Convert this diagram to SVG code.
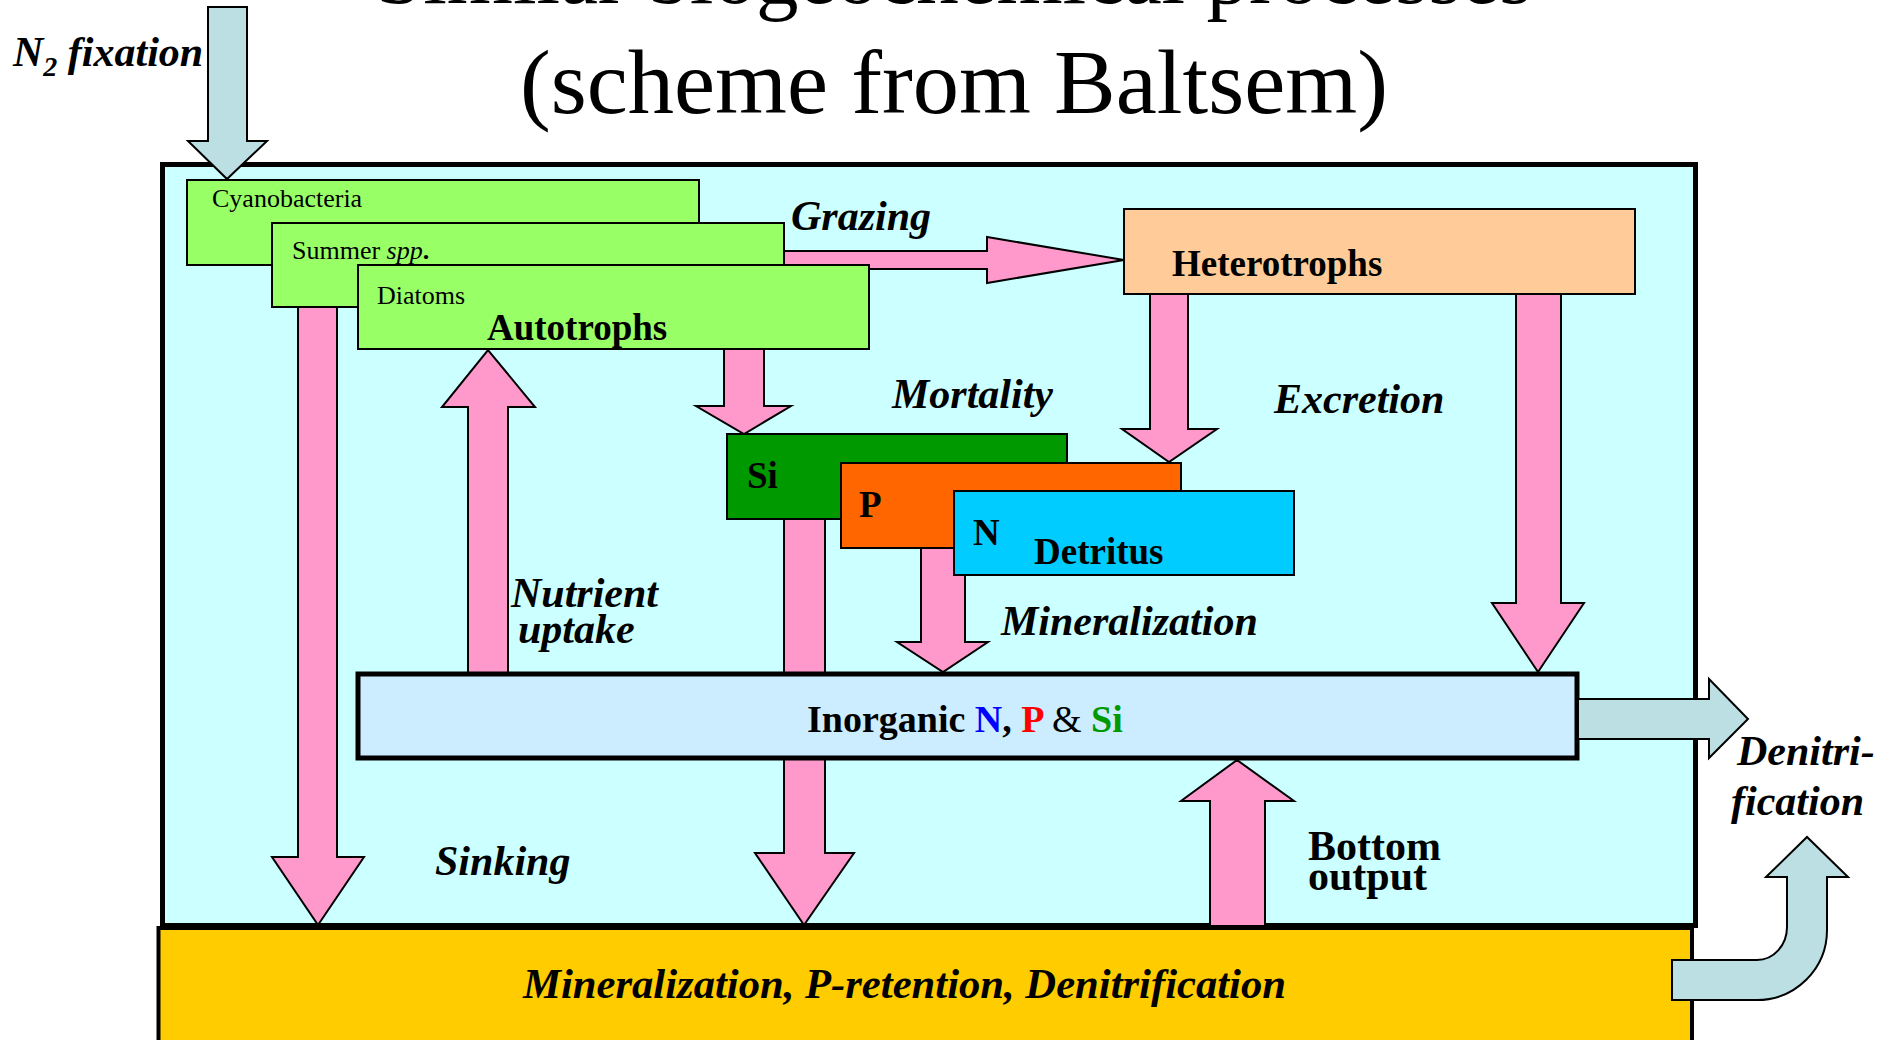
<svg xmlns="http://www.w3.org/2000/svg" width="1892" height="1040" viewBox="0 0 1892 1040">
<style>
text{font-family:"Liberation Serif","Times New Roman",serif;fill:#000}
.title{font-size:92px}
.small{font-size:26px}
.bold{font-size:37px;font-weight:bold}
.bi{font-size:42px;font-weight:bold;font-style:italic}
.b42{font-size:42px;font-weight:bold}
.box{stroke:#000;stroke-width:2}
.pink{fill:#FF99CC;stroke:#000;stroke-width:2;stroke-linejoin:miter}
.blue{fill:#BBDFE2;stroke:#000;stroke-width:2;stroke-linejoin:miter}
</style>
<rect width="1892" height="1040" fill="#fff"/>
<g id="title">
<text class="title" style="font-size:86px" x="376" y="3" textLength="1156" lengthAdjust="spacingAndGlyphs">Similar biogeochemical processes</text>
<text class="title" x="520" y="113" textLength="868" lengthAdjust="spacingAndGlyphs">(scheme from Baltsem)</text>
</g>
<g id="water">
<rect x="162.5" y="164.5" width="1533" height="761" fill="#CCFFFF" stroke="#000" stroke-width="5"/>
</g>
<g id="sediment">
<rect x="158.5" y="928" width="1533.5" height="130" fill="#FFCC00" stroke="#000" stroke-width="4"/>
<text class="bi" x="523" y="998" textLength="763" lengthAdjust="spacingAndGlyphs">Mineralization, P-retention, Denitrification</text>
</g>
<g id="connectors">
<polygon class="pink" points="298,300 337,300 337,857 364,857 318,925 272,857 298,857"/>
<polygon class="pink" points="468,676 468,407 442,407 488,350 535,407 508,407 508,676"/>
<polygon class="pink" points="724,345 764,345 764,406 791,406 744,434 696,406 724,406"/>
<polygon class="pink" points="784,515 825,515 825,853 854,853 804,925 755,853 784,853"/>
<polygon class="pink" points="921,545 965,545 965,642 988,642 943,672 897,642 921,642"/>
<polygon class="pink" points="780,251 987,251 987,237 1124,260 987,283 987,269 780,269"/>
<polygon class="pink" points="1150,290 1188,290 1188,429 1217,429 1169,462 1122,429 1150,429"/>
<polygon class="pink" points="1516,290 1561,290 1561,603 1584,603 1538,672 1492,603 1516,603"/>
<polygon class="pink" points="1210,926 1210,801 1181,801 1237,760 1294,801 1265,801 1265,926"/>
<polygon class="blue" points="208,7 247,7 247,141 267,141 227,179 188,141 208,141"/>
</g>
<g id="cyanobacteria">
<rect class="box" x="187" y="180" width="512" height="85" fill="#99FF66"/>
<text class="small" x="212" y="207">Cyanobacteria</text>
</g>
<g id="summer">
<rect class="box" x="272" y="223" width="512" height="84" fill="#99FF66"/>
<text class="small" x="292" y="259">Summer <tspan font-style="italic">spp</tspan><tspan font-weight="bold">.</tspan></text>
</g>
<g id="diatoms">
<rect class="box" x="358" y="265" width="511" height="84" fill="#99FF66"/>
<text class="small" x="377" y="304">Diatoms</text>
<text class="bold" x="487" y="340">Autotrophs</text>
</g>
<g id="heterotrophs">
<rect class="box" x="1124" y="209" width="511" height="85" fill="#FFCC99"/>
<text class="bold" x="1172" y="276">Heterotrophs</text>
</g>
<g id="detritus-si">
<rect class="box" x="727" y="434" width="340" height="85" fill="#009900"/>
<text class="bold" x="747" y="488">Si</text>
</g>
<g id="detritus-p">
<rect class="box" x="841" y="463" width="340" height="85" fill="#FF6600"/>
<text class="bold" x="859" y="517">P</text>
</g>
<g id="detritus-n">
<rect class="box" x="954" y="491" width="340" height="84" fill="#00CCFF"/>
<text class="bold" x="973" y="545">N</text>
<text class="bold" x="1034" y="564">Detritus</text>
</g>
<g id="inorganic">
<rect x="358" y="674" width="1219" height="84" fill="#CCECFF" stroke="#000" stroke-width="5"/>
<text font-size="38" font-weight="bold" x="807" y="732">Inorganic <tspan fill="#0000FF">N</tspan>, <tspan fill="#FF0000">P</tspan> <tspan font-weight="normal">&amp;</tspan> <tspan fill="#009900">Si</tspan></text>
</g>
<g id="outflows">
<polygon class="blue" points="1578,699 1709,699 1709,679 1748,719 1709,758 1709,739 1578,739"/>
<path class="blue" d="M1672,1000 L1757,1000 A70,70 0 0 0 1827,930 L1827,877 L1848,877 L1807,837 L1766,877 L1787,877 L1787,927 A30,33 0 0 1 1757,960 L1672,960 Z"/>
</g>
<g id="labels">
<text class="bi" x="13" y="66">N<tspan font-size="28" dy="10">2</tspan><tspan dy="-10" xml:space="preserve"> fixation</tspan></text>
<text class="bi" x="791" y="230">Grazing</text>
<text class="bi" x="892" y="408">Mortality</text>
<text class="bi" x="1274" y="413">Excretion</text>
<text class="bi" x="511" y="607">Nutrient</text>
<text class="bi" x="518" y="643">uptake</text>
<text class="bi" x="1001" y="635">Mineralization</text>
<text class="bi" x="435" y="875">Sinking</text>
<text class="b42" x="1308" y="860">Bottom</text>
<text class="b42" x="1308" y="890">output</text>
<text class="bi" x="1737" y="765">Denitri-</text>
<text class="bi" x="1731" y="815">fication</text>
</g>
</svg>
